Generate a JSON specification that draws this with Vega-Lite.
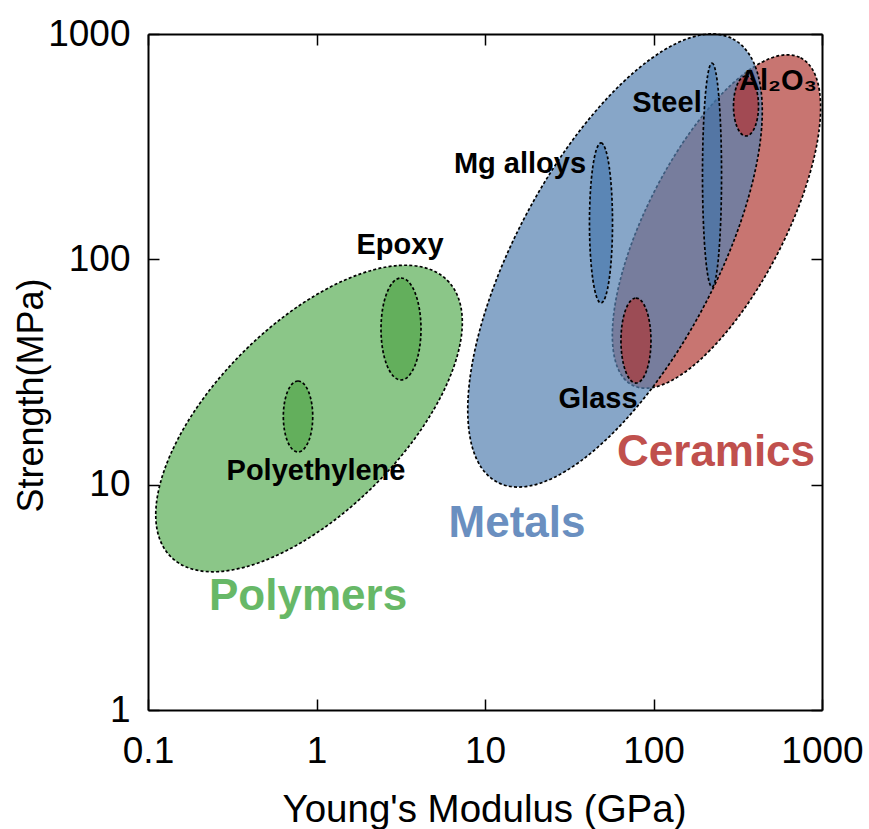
{
"$schema": "https://vega.github.io/schema/vega-lite/v6.json",
"width": 674,
"height": 676,
"autosize": {"type": "none"},
"padding": {"left": 148, "top": 34, "right": 47, "bottom": 119},
"background": "white",
"config": {"view": {"stroke": null}, "font": "Liberation Sans"},
"datasets": {
"ellipses": [
{"name": "Ceramics", "modulus": 236.5, "strength": 147.2},
{"name": "Metals", "modulus": 59.1, "strength": 98.8},
{"name": "Polymers", "modulus": 0.903, "strength": 19.66},
{"name": "Polyethylene", "modulus": 0.777, "strength": 20.07},
{"name": "Epoxy", "modulus": 3.173, "strength": 49.08},
{"name": "Mg alloys", "modulus": 48.8, "strength": 145.0},
{"name": "Steel", "modulus": 222.5, "strength": 236.7},
{"name": "Glass", "modulus": 78.7, "strength": 43.6},
{"name": "Al2O3", "modulus": 354, "strength": 479.2}
],
"labels": [
{"text": "Polymers", "kind": "class", "modulus": 0.891, "strength": 2.78},
{"text": "Metals", "kind": "class", "modulus": 15.48, "strength": 5.86},
{"text": "Ceramics", "kind": "class", "modulus": 234.9, "strength": 12.1},
{"text": "Polyethylene", "kind": "material", "modulus": 0.993, "strength": 10.49},
{"text": "Epoxy", "kind": "material", "modulus": 3.13, "strength": 105.6},
{"text": "Mg alloys", "kind": "material", "modulus": 16.13, "strength": 241.6},
{"text": "Steel", "kind": "material", "modulus": 120.3, "strength": 450.6},
{"text": "Glass", "kind": "material", "modulus": 46.85, "strength": 21.9},
{"text": "Al₂O₃", "kind": "material", "modulus": 548.1, "strength": 564.2}
]
},
"encoding": {
"x": {"field": "modulus", "type": "quantitative", "scale": {"type": "log", "domain": [0.1, 1000], "nice": false}, "axis": null},
"y": {"field": "strength", "type": "quantitative", "scale": {"type": "log", "domain": [1, 1000], "nice": false}, "axis": null}
},
"layer": [
{
"data": {"name": "ellipses"},
"transform": [{"filter": "datum.name === 'Ceramics'"}],
"mark": {"type": "point", "shape": "M1,0C1,0.2071 0.5523,0.375 0,0.375C-0.5523,0.375 -1,0.2071 -1,0C-1,-0.2071 -0.5523,-0.375 0,-0.375C0.5523,-0.375 1,-0.2071 1,0Z", "size": 135424, "angle": 297.2, "filled": true, "fill": "#c87571", "fillOpacity": 1, "opacity": 1, "stroke": "black", "strokeWidth": 1.7, "strokeDash": [3, 2.2]},
"encoding": {
"x": {"field": "modulus", "type": "quantitative", "scale": {"type": "log", "domain": [0.1, 1000], "nice": false},
"axis": {"orient": "bottom", "values": [0.1, 1, 10, 100, 1000], "format": "~g", "title": "Young's Modulus (GPa)", "grid": false, "zindex": 1,
"domainColor": "black", "domainWidth": 2, "tickColor": "black", "tickWidth": 1.5, "tickSize": -11,
"labelFont": "Liberation Sans", "labelFontSize": 37, "labelColor": "black", "labelPadding": 34, "labelFlush": false, "labelOverlap": false,
"titleFont": "Liberation Sans", "titleFontSize": 38.5, "titleFontWeight": "normal", "titleColor": "black", "titleX": 336, "titleY": 111, "titleBaseline": "alphabetic", "titleAlign": "center", "titleAnchor": null}},
"y": {"field": "strength", "type": "quantitative", "scale": {"type": "log", "domain": [1, 1000], "nice": false},
"axis": {"orient": "left", "values": [1, 10, 100, 1000], "format": "~g", "title": "Strength(MPa)", "grid": false, "zindex": 1,
"domainColor": "black", "domainWidth": 2, "tickColor": "black", "tickWidth": 1.5, "tickSize": -11,
"labelFont": "Liberation Sans", "labelFontSize": 37, "labelColor": "black", "labelPadding": 29, "labelFlush": false, "labelOverlap": false,
"titleFont": "Liberation Sans", "titleFontSize": 36, "titleFontWeight": "normal", "titleColor": "black", "titleX": -106, "titleY": 361, "titleBaseline": "alphabetic", "titleAlign": "center", "titleAngle": 270, "titleAnchor": null}}
}
},
{
"data": {"name": "ellipses"},
"transform": [{"filter": "datum.name === 'Metals'"}],
"mark": {"type": "point", "shape": "M1,0C1,0.22 0.5523,0.3984 0,0.3984C-0.5523,0.3984 -1,0.22 -1,0C-1,-0.22 -0.5523,-0.3984 0,-0.3984C0.5523,-0.3984 1,-0.22 1,0Z", "size": 252004, "angle": 298, "filled": true, "fill": "#5480b1", "fillOpacity": 0.7, "opacity": 1, "stroke": "black", "strokeOpacity": 1, "strokeWidth": 1.7, "strokeDash": [3, 2.2]},
"encoding": {
"x": {"field": "modulus", "type": "quantitative", "scale": {"type": "log", "domain": [0.1, 1000], "nice": false},
"axis": {"orient": "top", "values": [0.1, 1, 10, 100, 1000], "labels": false, "title": null, "grid": false, "zindex": 1,
"domainColor": "black", "domainWidth": 2, "tickColor": "black", "tickWidth": 1.5, "tickSize": -11}},
"y": {"field": "strength", "type": "quantitative", "scale": {"type": "log", "domain": [1, 1000], "nice": false},
"axis": {"orient": "right", "values": [1, 10, 100, 1000], "labels": false, "title": null, "grid": false, "zindex": 1,
"domainColor": "black", "domainWidth": 2, "tickColor": "black", "tickWidth": 1.5, "tickSize": -11}}
}
},
{
"data": {"name": "ellipses"},
"transform": [{"filter": "datum.name === 'Polymers'"}],
"mark": {"type": "point", "shape": "M1,0C1,0.2642 0.5523,0.4783 0,0.4783C-0.5523,0.4783 -1,0.2642 -1,0C-1,-0.2642 -0.5523,-0.4783 0,-0.4783C0.5523,-0.4783 1,-0.2642 1,0Z", "size": 152881, "angle": 315, "filled": true, "fill": "#8bc688", "fillOpacity": 1, "opacity": 1, "stroke": "black", "strokeWidth": 1.7, "strokeDash": [3, 2.2]}
},
{
"data": {"name": "ellipses"},
"transform": [{"filter": "datum.name === 'Polyethylene'"}],
"mark": {"type": "point", "shape": "M0,-1C0.2287,-1 0.414,-0.5523 0.414,0C0.414,0.5523 0.2287,1 0,1C-0.2287,1 -0.414,0.5523 -0.414,0C-0.414,-0.5523 -0.2287,-1 0,-1Z", "size": 5041, "filled": true, "fill": "#63af5c", "fillOpacity": 1, "opacity": 1, "stroke": "black", "strokeWidth": 1.7, "strokeDash": [3, 2.2]}
},
{
"data": {"name": "ellipses"},
"transform": [{"filter": "datum.name === 'Epoxy'"}],
"mark": {"type": "point", "shape": "M0,-1C0.2165,-1 0.392,-0.5523 0.392,0C0.392,0.5523 0.2165,1 0,1C-0.2165,1 -0.392,0.5523 -0.392,0C-0.392,-0.5523 -0.2165,-1 0,-1Z", "size": 10404, "filled": true, "fill": "#63af5c", "fillOpacity": 1, "opacity": 1, "stroke": "black", "strokeWidth": 1.7, "strokeDash": [3, 2.2]}
},
{
"data": {"name": "ellipses"},
"transform": [{"filter": "datum.name === 'Mg alloys'"}],
"mark": {"type": "point", "shape": "M0,-1C0.0795,-1 0.144,-0.5523 0.144,0C0.144,0.5523 0.0795,1 0,1C-0.0795,1 -0.144,0.5523 -0.144,0C-0.144,-0.5523 -0.0795,-1 0,-1Z", "size": 25600, "filled": true, "fill": "#3e72a8", "fillOpacity": 0.6, "opacity": 1, "stroke": "black", "strokeOpacity": 1, "strokeWidth": 1.7, "strokeDash": [3, 2.2]}
},
{
"data": {"name": "ellipses"},
"transform": [{"filter": "datum.name === 'Steel'"}],
"mark": {"type": "point", "shape": "M0,-1C0.0469,-1 0.085,-0.5523 0.085,0C0.085,0.5523 0.0469,1 0,1C-0.0469,1 -0.085,0.5523 -0.085,0C-0.085,-0.5523 -0.0469,-1 0,-1Z", "size": 50176, "filled": true, "fill": "#3e72a8", "fillOpacity": 0.6, "opacity": 1, "stroke": "black", "strokeOpacity": 1, "strokeWidth": 1.7, "strokeDash": [3, 2.2]}
},
{
"data": {"name": "ellipses"},
"transform": [{"filter": "datum.name === 'Glass'"}],
"mark": {"type": "point", "shape": "M0,-1C0.195,-1 0.353,-0.5523 0.353,0C0.353,0.5523 0.195,1 0,1C-0.195,1 -0.353,0.5523 -0.353,0C-0.353,-0.5523 -0.195,-1 0,-1Z", "size": 7225, "filled": true, "fill": "#9c4c55", "fillOpacity": 1, "opacity": 1, "stroke": "black", "strokeWidth": 1.7, "strokeDash": [3, 2.2]}
},
{
"data": {"name": "ellipses"},
"transform": [{"filter": "datum.name === 'Al2O3'"}],
"mark": {"type": "point", "shape": "M0,-1C0.2303,-1 0.417,-0.5523 0.417,0C0.417,0.5523 0.2303,1 0,1C-0.2303,1 -0.417,0.5523 -0.417,0C-0.417,-0.5523 -0.2303,-1 0,-1Z", "size": 3600, "filled": true, "fill": "#a24a53", "fillOpacity": 1, "opacity": 1, "stroke": "black", "strokeWidth": 1.7, "strokeDash": [3, 2.2]}
},
{
"data": {"name": "labels"},
"transform": [{"filter": "datum.kind === 'class'"}],
"mark": {"type": "text", "font": "Liberation Sans", "fontSize": 44, "fontWeight": "bold", "align": "center", "baseline": "alphabetic"},
"encoding": {
"text": {"field": "text", "type": "nominal"},
"color": {"field": "text", "type": "nominal", "scale": {"domain": ["Polymers", "Metals", "Ceramics"], "range": ["#67b867", "#6a8fc0", "#c0504d"]}, "legend": null}
}
},
{
"data": {"name": "labels"},
"transform": [{"filter": "datum.kind === 'material'"}],
"mark": {"type": "text", "font": "Liberation Sans", "fontSize": 29, "fontWeight": "bold", "align": "center", "baseline": "alphabetic", "color": "black"},
"encoding": {
"text": {"field": "text", "type": "nominal"}
}
}
],
"resolve": {"axis": {"x": "independent", "y": "independent"}}
}
